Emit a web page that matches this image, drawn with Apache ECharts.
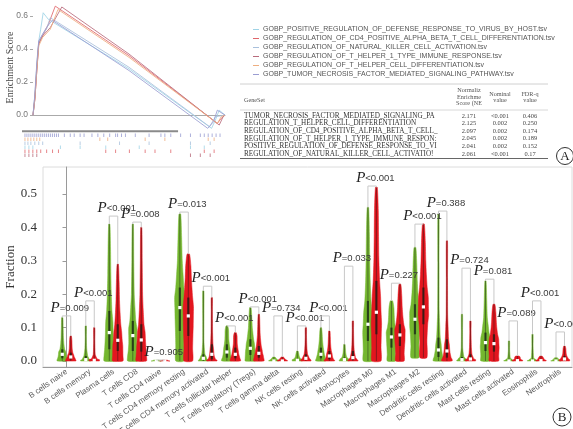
<!DOCTYPE html>
<html><head><meta charset="utf-8">
<script src="https://cdn.jsdelivr.net/npm/echarts@6/dist/echarts.min.js"></script>
<style>html,body{margin:0;padding:0;background:#fff}#c{width:573px;height:429px}</style>
</head><body><div id="c"></div>
<script>
// ================= Panel A data =================
const geneSets = [
  'GOBP_POSITIVE_REGULATION_OF_DEFENSE_RESPONSE_TO_VIRUS_BY_HOST.tsv',
  'GOBP_REGULATION_OF_CD4_POSITIVE_ALPHA_BETA_T_CELL_DIFFERENTIATION.tsv',
  'GOBP_REGULATION_OF_NATURAL_KILLER_CELL_ACTIVATION.tsv',
  'GOBP_REGULATION_OF_T_HELPER_1_TYPE_IMMUNE_RESPONSE.tsv',
  'GOBP_REGULATION_OF_T_HELPER_CELL_DIFFERENTIATION.tsv',
  'GOBP_TUMOR_NECROSIS_FACTOR_MEDIATED_SIGNALING_PATHWAY.tsv'
];
const setColors = ['#9fd3e6', '#e0666b', '#a9c0dc', '#b86b7c', '#eeae80', '#9a9dd2'];
// running enrichment score: rank (% of ranked list) and ES value
const esRanks = [
  [0, 1, 2, 3, 4, 5.3, 8, 50, 93, 95, 97, 100],
  [0, 1, 2, 3, 5, 8, 11.6, 50, 96, 98, 100],
  [0, 1, 2, 3, 5, 7, 9, 50, 92, 95, 100],
  [0, 1, 2, 3, 5, 9, 15, 50, 97, 99, 100],
  [0, 1, 2, 3, 5, 9, 13, 50, 96, 98, 100],
  [0, 1, 2, 3, 5, 7, 10, 50, 91, 94, 96, 100]
];
const esValues = [
  [0, 0.12, 0.3, 0.45, 0.52, 0.62, 0.58, 0.28, -0.08, -0.03, 0.03, 0],
  [0, 0.1, 0.28, 0.44, 0.48, 0.55, 0.66, 0.36, -0.05, -0.02, 0],
  [0, 0.12, 0.3, 0.44, 0.49, 0.52, 0.59, 0.29, -0.07, -0.01, 0],
  [0, 0.1, 0.27, 0.43, 0.48, 0.53, 0.655, 0.37, -0.06, -0.01, 0],
  [0, 0.1, 0.27, 0.42, 0.47, 0.52, 0.64, 0.35, -0.05, -0.01, 0],
  [0, 0.13, 0.32, 0.45, 0.49, 0.53, 0.575, 0.27, -0.08, -0.04, 0.03, 0]
];
// hit positions (rug), one row per gene set, in rug-row order
const rugOrder = [5, 4, 2, 0, 1, 3];
const rugHits = [
  [0,1,2,3,4,5,6,7,8,9,10,11,12,13,14,15,16,17,20,23,25,28,30,34,37,40,43,46,47,49,51,56,63,69,71,74,79,84,89,91,93,95,97,99],
  [0,1.5,3,4.5,6,7.5,38,42,61,71,93,96],
  [0,1.5,3,5,7,9,28,48,63,84,94],
  [0,2,4,18,28,41,58,84,91],
  [0,2,4,6,8,11,14,17,41,46,53,61,66,74,91,96],
  [0,2,4,6,84,89,94]
];
const rankedBar = [-1.5, 77.7];
// summary table
const tableNames = ['TUMOR_NECROSIS_FACTOR_MEDIATED_SIGNALING_PA','REGULATION_T_HELPER_CELL_DIFFERENTIATION','REGULATION_OF_CD4_POSITIVE_ALPHA_BETA_T_CELL_','REGULATION_OF_T_HELPER_1_TYPE_IMMUNE_RESPON:','POSITIVE_REGULATION_OF_DEFENSE_RESPONSE_TO_VI','REGULATION_OF_NATURAL_KILLER_CELL_ACTIVATIO!'];
const tableNES = ['2.171','2.125','2.097','2.045','2.041','2.061'];
const tableNominal = ['<0.001','0.002','0.002','0.002','0.002','<0.001'];
const tableFDR = ['0.406','0.250','0.174','0.189','0.152','0.17'];

// ================= Panel B data =================
const cellTypes = ['B cells naive','B cells memory','Plasma cells','T cells CD8','T cells CD4 naive','T cells CD4 memory resting','T cells CD4 memory activated','T cells follicular helper','T cells regulatory (Tregs)','T cells gamma delta','NK cells resting','NK cells activated','Monocytes','Macrophages M0','Macrophages M1','Macrophages M2','Dendritic cells resting','Dendritic cells activated','Mast cells resting','Mast cells activated','Eosinophils','Neutrophils'];
// [min, q1, median, q3, p90, max]
const greenStats = [
  [0,0.008,0.02,0.035,0.07,0.13],
  [0,0.001,0.004,0.015,0.04,0.105],
  [0,0.035,0.085,0.15,0.26,0.41],
  [0,0.03,0.076,0.12,0.2,0.41],
  [0,0,0,0,0.001,0.003],
  [0,0.09,0.16,0.22,0.3,0.44],
  [0,0.002,0.008,0.02,0.06,0.21],
  [0,0.01,0.027,0.05,0.08,0.105],
  [0,0.018,0.038,0.065,0.1,0.16],
  [0,0,0,0.002,0.005,0.012],
  [0,0,0.002,0.006,0.015,0.03],
  [0,0.008,0.02,0.04,0.065,0.1],
  [0,0.001,0.004,0.01,0.025,0.05],
  [0,0.06,0.11,0.18,0.3,0.46],
  [0,0.04,0.072,0.1,0.14,0.18],
  [0.01,0.08,0.125,0.17,0.24,0.34],
  [0,0.012,0.033,0.07,0.15,0.44],
  [0,0.001,0.004,0.012,0.04,0.14],
  [0,0.03,0.055,0.085,0.13,0.24],
  [0,0,0,0.002,0.008,0.06],
  [0,0,0,0.002,0.008,0.08],
  [0,0,0,0.001,0.004,0.01]
];
const redStats = [
  [0,0.005,0.012,0.025,0.05,0.075],
  [0,0,0.002,0.006,0.02,0.1],
  [0,0.03,0.062,0.11,0.18,0.29],
  [0,0.028,0.063,0.11,0.2,0.4],
  [0,0,0,0,0.001,0.003],
  [0,0.075,0.135,0.19,0.25,0.32],
  [0,0.005,0.02,0.05,0.12,0.19],
  [0,0.008,0.02,0.04,0.065,0.085],
  [0,0.01,0.023,0.045,0.08,0.14],
  [0,0,0,0.002,0.005,0.012],
  [0,0.003,0.008,0.02,0.05,0.1],
  [0,0.005,0.015,0.03,0.055,0.09],
  [0,0.003,0.01,0.03,0.07,0.12],
  [0,0.08,0.146,0.24,0.38,0.52],
  [0,0.045,0.078,0.11,0.16,0.23],
  [0.01,0.11,0.162,0.22,0.3,0.41],
  [0,0.01,0.03,0.065,0.14,0.36],
  [0,0.002,0.006,0.02,0.06,0.12],
  [0,0.028,0.052,0.08,0.12,0.17],
  [0,0,0.001,0.004,0.01,0.015],
  [0,0,0.001,0.003,0.008,0.015],
  [0,0.002,0.006,0.015,0.03,0.045]
];
const bracketHeights = [0.135,0.18,0.434,0.416,0.003,0.446,0.224,0.105,0.162,0.135,0.105,0.135,0.284,0.524,0.233,0.41,0.449,0.278,0.245,0.12,0.18,0.087];
const pValues = ['=0.009','<0.001','<0.001','=0.008','=0.905','=0.013','<0.001','<0.001','<0.001','=0.734','<0.001','<0.001','=0.033','<0.001','=0.227','<0.001','=0.388','=0.724','=0.081','=0.089','<0.001','<0.001'];
const yTicksB = [0, 0.1, 0.2, 0.3, 0.4, 0.5];

// ================= rendering =================
const chart = echarts.init(document.getElementById('c'), null, {renderer: 'canvas'});
const PROBS = [0, 0.25, 0.5, 0.75, 0.9, 1];
const OFF = 0.18;
const GREEN = '#74b72f', RED = '#e3161f';

function violinRender(color, offset) {
  return function (params, api) {
    const ci = api.value(0);
    const q = [1,2,3,4,5,6].map(k => api.value(k));
    const cx = api.coord([ci + offset, 0])[0];
    const py = v => api.coord([ci + offset, v])[1];
    const eps = 0.004;
    const d = [];
    for (let k = 0; k < 5; k++) d.push((PROBS[k+1] - PROBS[k]) / Math.max(q[k+1] - q[k], eps));
    const prof = [[q[0], d[0]]];
    for (let k = 0; k < 5; k++) {
      prof.push([(q[k] + q[k+1]) / 2, d[k]]);
      if (k < 4) prof.push([q[k+1], Math.sqrt(d[k] * d[k+1])]);
    }
    prof.push([q[5], d[4] * 0.3]);
    const maxW = Math.max.apply(null, prof.map(p => p[1]));
    const H = 5.2;
    const left = [], right = [];
    prof.forEach(p => {
      const w = Math.max(0.6, Math.pow(p[1] / maxW, 0.6) * H);
      const y = py(p[0]);
      left.push([cx - w, y]);
      right.unshift([cx + w, y]);
    });
    const iqrTop = py(q[3]), iqrBot = py(q[1]);
    return {type: 'group', children: [
      {type: 'polygon', shape: {points: left.concat(right), smooth: 0.2}, style: {fill: color, stroke: color, lineWidth: 0.5}},
      {type: 'line', shape: {x1: cx, y1: py(q[0]), x2: cx, y2: py(q[5])}, style: {stroke: 'rgba(25,25,25,0.55)', lineWidth: 0.8}},
      {type: 'rect', shape: {x: cx - 1.1, y: iqrTop, width: 2.2, height: Math.max(0.8, iqrBot - iqrTop)}, style: {fill: 'rgba(20,30,20,0.7)'}},
      {type: 'rect', shape: {x: cx - 1.6, y: py(q[2]) - 1.6, width: 3.2, height: 3.2}, style: {fill: '#ffffff'}}
    ]};
  };
}

function bracketRender(params, api) {
  const ci = api.value(0), by = api.value(1), gmax = api.value(2), rmax = api.value(3);
  const xl = api.coord([ci - OFF, 0])[0], xr = api.coord([ci + OFF, 0])[0];
  const cx = api.coord([ci, 0])[0];
  const yb = api.coord([ci, by])[1];
  const ygl = api.coord([ci, Math.min(gmax, by)])[1];
  const yrl = api.coord([ci, Math.min(rmax, by)])[1];
  const pv = pValues[params.dataIndex];
  return {type: 'group', children: [
    {type: 'polyline', shape: {points: [[xl, ygl], [xl, yb], [xr, yb], [xr, yrl]]}, style: {stroke: '#c8c8c8', lineWidth: 1, fill: null}},
    {type: 'text', x: cx - 16, y: yb - 8, style: {
      text: '{p|P}{v|' + pv + '}', align: 'left', verticalAlign: 'middle',
      rich: {
        p: {fontFamily: '"Liberation Serif", serif', fontStyle: 'italic', fontSize: 15, fill: '#222'},
        v: {fontFamily: '"Liberation Sans", Arial, sans-serif', fontSize: 9.5, fill: '#3a3a3a'}
      }}}
  ]};
}

// Panel A series
const series = [];
geneSets.forEach((name, s) => {
  series.push({
    name: name, type: 'line', xAxisIndex: 0, yAxisIndex: 0, showSymbol: false, symbol: 'none',
    data: esRanks[s].map((r, i) => [r, esValues[s][i]]),
    lineStyle: {width: 1, color: setColors[s], opacity: 0.85}, itemStyle: {color: setColors[s]}, z: 3, silent: true
  });
});
rugOrder.forEach((s, row) => {
  series.push({
    type: 'scatter', xAxisIndex: 1, yAxisIndex: 1, symbol: 'rect', symbolSize: [1, 3.6],
    data: rugHits[row].map(h => [h, row + 1]), itemStyle: {color: setColors[s]}, silent: true
  });
});
series.push({
  type: 'line', xAxisIndex: 1, yAxisIndex: 1, showSymbol: false, symbol: 'none',
  data: rankedBar.map(x => [x, 0]), lineStyle: {width: 2, color: '#8a8a8a'}, silent: true
});
// Panel B series
series.push({type: 'custom', xAxisIndex: 2, yAxisIndex: 2, renderItem: violinRender(GREEN, -OFF), silent: true,
  data: greenStats.map((st, i) => [i].concat(st)), z: 3});
series.push({type: 'custom', xAxisIndex: 2, yAxisIndex: 2, renderItem: violinRender(RED, OFF), silent: true,
  data: redStats.map((st, i) => [i].concat(st)), z: 3});
series.push({type: 'custom', xAxisIndex: 2, yAxisIndex: 2, renderItem: bracketRender, silent: true,
  data: cellTypes.map((c, i) => [i, bracketHeights[i], greenStats[i][5], redStats[i][5]]), z: 5});

// table graphics
const serif = '"Liberation Serif", "Times New Roman", serif';
const sans = '"Liberation Sans", Arial, sans-serif';
const graphic = [];
const T = {x0: 244, x1: 548, top: 84, hdrBot: 110, rowY0: 116, rowStep: 7.6, cNES: 469, cNom: 500, cFDR: 530};
graphic.push({type: 'line', shape: {x1: T.x0 - 4, y1: T.top, x2: T.x1, y2: T.top}, style: {stroke: '#d0d0d0', lineWidth: 1}});
graphic.push({type: 'line', shape: {x1: T.x0 - 4, y1: T.hdrBot, x2: T.x1, y2: T.hdrBot}, style: {stroke: '#d8d8d8', lineWidth: 1}});
const tBottom = T.rowY0 + T.rowStep * (tableNames.length - 1) + 4.5;
graphic.push({type: 'line', shape: {x1: T.x0 - 4, y1: tBottom, x2: T.x1, y2: tBottom}, style: {stroke: '#666', lineWidth: 1}});
function gtext(t, x, y, size, align, color, font) {
  graphic.push({type: 'text', x: x, y: y, style: {text: t, font: size + 'px ' + (font || serif), fill: color || '#333', align: align || 'left', verticalAlign: 'middle'}});
}
gtext('GeneSet', T.x0, 100, 6.2, 'left', '#555');
gtext('Normaliz', T.cNES, 90.5, 6.2, 'center', '#555');
gtext('Enrichme', T.cNES, 97, 6.2, 'center', '#555');
gtext('Score (NE', T.cNES, 103.5, 6.2, 'center', '#555');
gtext('Nominal', T.cNom, 94, 6.2, 'center', '#555');
gtext('value', T.cNom, 100.5, 6.2, 'center', '#555');
gtext('FDR-q', T.cFDR, 94, 6.2, 'center', '#555');
gtext('value', T.cFDR, 100.5, 6.2, 'center', '#555');
tableNames.forEach((n, i) => {
  const y = T.rowY0 + T.rowStep * i;
  gtext(n, T.x0, y, 7.2, 'left', '#333');
  gtext(tableNES[i], T.cNES, y, 6.4, 'center', '#444');
  gtext(tableNominal[i], T.cNom, y, 6.4, 'center', '#444');
  gtext(tableFDR[i], T.cFDR, y, 6.4, 'center', '#444');
});
graphic.push({type: 'circle', shape: {cx: 565, cy: 156, r: 8.5}, style: {fill: 'none', stroke: '#333', lineWidth: 1}});
gtext('A', 565, 156.5, 13, 'center', '#222');
graphic.push({type: 'circle', shape: {cx: 562, cy: 417, r: 9}, style: {fill: 'none', stroke: '#333', lineWidth: 1}});
gtext('B', 562, 417.5, 13, 'center', '#222');

const option = {
  animation: false,
  backgroundColor: '#fff',
  legend: {
    data: geneSets, orient: 'vertical', left: 248, top: 21, itemGap: 2, itemWidth: 6, itemHeight: 1,
    icon: 'rect', selectedMode: false,
    textStyle: {fontSize: 7, fontFamily: sans, color: '#555', padding: [0, 0, 0, -1], lineHeight: 7}
  },
  grid: [
    {left: 33, top: 5, width: 192, height: 125, outerBoundsMode: 'none', containLabel: false},
    {left: 22, top: 130, width: 200, height: 28, outerBoundsMode: 'none', containLabel: false},
    {left: 43, top: 167, right: 1, bottom: 62, outerBoundsMode: 'none', containLabel: false,
     show: true, borderColor: '#dcdcdc', borderWidth: 1, backgroundColor: 'transparent'}
  ],
  xAxis: [
    {gridIndex: 0, type: 'value', min: 0, max: 100, axisLine: {show: true, onZero: true, lineStyle: {color: '#aaa', width: 1}},
     axisTick: {show: false}, axisLabel: {show: false}, splitLine: {show: false}},
    {gridIndex: 1, type: 'value', min: -1.5, max: 100, axisLine: {show: false}, axisTick: {show: false}, axisLabel: {show: false}, splitLine: {show: false}},
    {gridIndex: 2, type: 'value', min: -1, max: 21.5, interval: 1,
     axisLine: {show: true, onZero: false, lineStyle: {color: '#9a9a9a', width: 1}},
     axisTick: {show: false}, splitLine: {show: false},
     axisLabel: {show: true, rotate: 35, fontSize: 8, fontFamily: sans, color: '#5a5a5a', margin: 4, showMaxLabel: false,
       formatter: v => (Number.isInteger(v) && v >= 0 && v < cellTypes.length) ? cellTypes[v] : ''}}
  ],
  yAxis: [
    {gridIndex: 0, type: 'value', min: -0.09, max: 0.667, splitNumber: 4,
     name: 'Enrichment Score', nameLocation: 'middle', nameGap: 18, nameRotate: 90, nameMoveOverlap: false,
     nameTextStyle: {fontFamily: serif, fontSize: 10, color: '#444'},
     axisLine: {show: false}, axisTick: {show: true, length: 3, lineStyle: {color: '#aaa'}},
     axisLabel: {showMinLabel: false, showMaxLabel: false, fontSize: 8.5, fontFamily: sans, color: '#777', margin: 5,
       formatter: v => v.toFixed(1)}, splitLine: {show: false}},
    {gridIndex: 1, type: 'value', min: -0.3, max: 6.7, inverse: true, show: false},
    {gridIndex: 2, type: 'value', min: -0.018, max: 0.581,
     name: 'Fraction', nameLocation: 'middle', nameGap: 26, nameRotate: 90, nameMoveOverlap: false,
     nameTextStyle: {fontFamily: serif, fontSize: 13, color: '#333'},
     axisLine: {show: true, lineStyle: {color: '#9a9a9a'}}, axisTick: {show: true, length: 4, lineStyle: {color: '#9a9a9a'}},
     axisLabel: {showMinLabel: false, showMaxLabel: false, fontSize: 13, fontFamily: serif, color: '#333', margin: 6,
       formatter: v => yTicksB.some(t => Math.abs(t - v) < 1e-6) ? v.toFixed(1) : ''},
     splitLine: {show: false}}
  ],
  series: series,
  graphic: graphic
};
chart.setOption(option);
</script>
</body></html>
